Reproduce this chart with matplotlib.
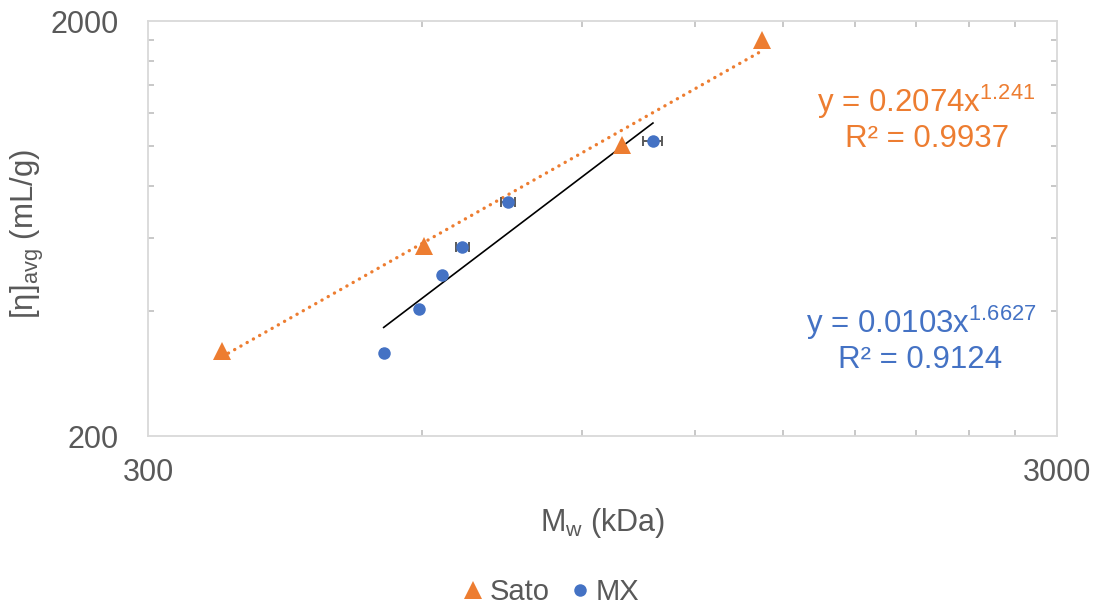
import matplotlib
matplotlib.use("Agg")
import matplotlib.pyplot as plt
from matplotlib.lines import Line2D
from matplotlib.ticker import FixedLocator, NullFormatter, FixedFormatter
import numpy as np

plt.rcParams['font.family'] = ['Liberation Sans', 'DejaVu Sans']
plt.rcParams['mathtext.fontset'] = 'custom'
plt.rcParams['mathtext.rm'] = 'Liberation Sans'
plt.rcParams['mathtext.it'] = 'Liberation Sans'

# ---- data ----
sato_mw = [362, 604, 997, 1421]
sato_eta = [321, 574, 1005, 1799]

mx_mw = [545, 596, 632, 665, 747, 1078]
mx_eta = [317, 404, 489, 571, 733, 1028]
mx_mw_err = [2, 2, 2, 11, 13, 26]

sato_fit = (0.2074, 1.241, 0.9937)
mx_fit = (0.0103, 1.6627, 0.9124)

x_major = [300, 3000]
x_minor = [600, 900, 1200, 1500, 1800, 2100, 2400, 2700]
y_major = [200, 2000]
y_minor = [400, 600, 800, 1000, 1200, 1400, 1600, 1800]

ORANGE = '#ED7D31'
BLUE = '#4472C4'
GRAY = '#595959'

W, H = 1094, 604
fig = plt.figure(figsize=(W / 100, H / 100), dpi=100)
ax = fig.add_axes([148 / W, 1 - 436 / H, (1057 - 148) / W, (436 - 21) / H])
ax.set_xscale('log')
ax.set_yscale('log')
ax.set_xlim(300, 3000)
ax.set_ylim(200, 2000)

# trendlines
xs = np.geomspace(min(sato_mw), max(sato_mw), 100)
ax.plot(xs, sato_fit[0] * xs ** sato_fit[1], color=ORANGE, lw=2.4,
        linestyle=(0, (0.05, 2.1)), dash_capstyle='round', zorder=2)
xm = np.geomspace(min(mx_mw), max(mx_mw), 100)
ax.plot(xm, mx_fit[0] * xm ** mx_fit[1], color='black', lw=1.2, zorder=2)

# data
ax.plot(sato_mw, sato_eta, linestyle='none', marker='^', ms=12.5,
        color=ORANGE, markeredgewidth=0, zorder=4)
ax.errorbar(mx_mw, mx_eta, xerr=mx_mw_err, fmt='none', ecolor=GRAY,
            elinewidth=1.4, capsize=3.6, capthick=1.4, zorder=3)
ax.plot(mx_mw, mx_eta, linestyle='none', marker='o', ms=9,
        color=BLUE, markeredgewidth=0, zorder=5)

# axes styling
for s in ax.spines.values():
    s.set_color('#D9D9D9')
    s.set_linewidth(1.3)
ax.xaxis.set_major_locator(FixedLocator(x_major))
ax.xaxis.set_minor_locator(FixedLocator(x_minor))
ax.yaxis.set_major_locator(FixedLocator(y_major))
ax.yaxis.set_minor_locator(FixedLocator(y_minor))
ax.xaxis.set_major_formatter(FixedFormatter([str(v) for v in x_major]))
ax.yaxis.set_major_formatter(FixedFormatter([str(v) for v in y_major]))
ax.xaxis.set_minor_formatter(NullFormatter())
ax.yaxis.set_minor_formatter(NullFormatter())
ax.tick_params(which='minor', direction='in', length=4.5, width=1.2,
               color='#BFBFBF', top=True, right=True)
ax.tick_params(which='major', length=0, labelsize=22, labelcolor=GRAY)
ax.tick_params(axis='x', which='major', pad=16)
ax.tick_params(axis='y', which='major', pad=21)

fig.text(603 / W, 1 - 531 / H, r'M$_\mathregular{w}$ (kDa)', ha='center',
         va='baseline', fontsize=22, color=GRAY)
fig.text(27 / W, 1 - 234 / H, r'[η]$_\mathregular{avg}$ (mL/g)', ha='center',
         va='center', rotation=90, fontsize=22.5, color=GRAY)

# equations
EQ_FS = 22.5
fig.text(926 / W, 1 - 112 / H,
         'y = %.4fx$^{\\mathregular{%s}}$' % (sato_fit[0], sato_fit[1]),
         ha='center', va='baseline', fontsize=EQ_FS, color=ORANGE)
fig.text(927 / W, 1 - 147 / H, 'R² = %.4f' % sato_fit[2],
         ha='center', va='baseline', fontsize=EQ_FS, color=ORANGE)
fig.text(921 / W, 1 - 333 / H,
         'y = %.4fx$^{\\mathregular{%s}}$' % (mx_fit[0], mx_fit[1]),
         ha='center', va='baseline', fontsize=EQ_FS, color=BLUE)
fig.text(920 / W, 1 - 368 / H, 'R² = %.4f' % mx_fit[2],
         ha='center', va='baseline', fontsize=EQ_FS, color=BLUE)

handles = [Line2D([], [], linestyle='none', marker='^', ms=12.5, color=ORANGE, markeredgewidth=0),
           Line2D([], [], linestyle='none', marker='o', ms=9, color=BLUE, markeredgewidth=0)]
leg = fig.legend(handles, ['Sato', 'MX'], loc='center', bbox_to_anchor=(552 / W, 1 - 592 / H),
                 ncol=2, frameon=False, fontsize=21, handlelength=0.6,
                 handletextpad=0.25, columnspacing=0.75, labelcolor=GRAY)

fig.savefig('out.png', dpi=100)
